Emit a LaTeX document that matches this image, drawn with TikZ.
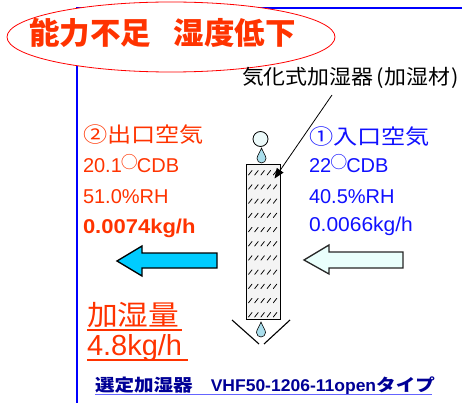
\documentclass[tikz,border=0pt]{standalone}
\usepackage{fontspec}
\setmainfont{Liberation Sans}
\newfontfamily\jp{Noto Sans CJK JP}
\usetikzlibrary{arrows.meta}

\definecolor{alarm}{RGB}{255,51,0}
\definecolor{inblue}{RGB}{16,16,255}
\definecolor{frameblue}{RGB}{0,0,255}
\definecolor{navytext}{RGB}{0,0,150}
\definecolor{ulblue}{RGB}{100,100,255}
\definecolor{padfill}{RGB}{244,244,244}
\definecolor{dropblue}{RGB}{170,222,236}
\definecolor{bubble}{RGB}{236,250,250}
\definecolor{jetcyan}{RGB}{0,204,255}
\definecolor{intake}{RGB}{234,255,252}

% horizontal stretch for text
\newcommand{\wide}[2]{\scalebox{#1}[1]{#2}}
% raised degree ring used in the temperature lines
\newcommand{\degring}{\hspace{-1pt}\raisebox{4.5pt}{\jp\fontsize{17}{17}\selectfont ○}\hspace{-1pt}}

\tikzset{
  txt/.style={inner sep=0pt, outer sep=0pt},
  frameline/.style={draw=frameblue, line width=2pt},
  hatchmark/.style={line width=0.75pt, line cap=round},
  blockarrow/.style={line width=1.3pt, line join=miter},
  waterdrop/.pic={
    \draw[fill=dropblue, line width=0.6pt]
      (0,0) .. controls (-1.5,4) and (-4.5,8) .. (-4.5,10.5)
      .. controls (-4.5,13) and (-2.5,15) .. (0,15)
      .. controls (2.5,15) and (4.5,13) .. (4.5,10.5)
      .. controls (4.5,8) and (1.5,4) .. (0,0) -- cycle;
  }
}

\begin{document}
\begin{tikzpicture}[x=1pt, y=-1pt]
\useasboundingbox (0,0) rectangle (462,403);

% blue frame
\draw[frameline] (77,403) -- (77,8) -- (462,8);

% headline in a red ellipse
\draw[red, line width=0.8pt, fill=white] (171,37) ellipse [x radius=164, y radius=35];
\node[txt, text=alarm, font=\jp\bfseries\fontsize{30.5}{30.5}\selectfont] (title) at (162.5,32.5) {能力不足\hspace{0.75em}湿度低下};

% humidifier label
\node[txt, font=\jp\fontsize{20.5}{20.5}\selectfont, anchor=west] (lbl) at (242,78)
  {\wide{1.07}{気化式加湿器\hspace{2.5pt}(\hspace{1pt}加湿材\hspace{1pt})}};
\coordinate (lblfoot) at (332,95);

% humidifying pad
\node[draw, line width=1pt, fill=padfill, minimum width=34pt, minimum height=154pt, inner sep=0pt] (col) at (263,242) {};
\foreach \r in {0,...,10} {
  \foreach \c in {0,...,4} {
    \draw[hatchmark] ({248.5+6.2*\c},{175+14.2*\r}) -- ++(3.5,-4.5);
  }
}

% pointer from the label to the pad
\draw[line width=0.8pt, -{Triangle[length=10pt, width=8pt]}] (lblfoot) -- ([shift={(-6,14)}]col.north east);

% water supply on top
\draw[line width=0.8pt, fill=bubble] (260.5,139) circle [radius=7.5];
\pic at (261.5,148) {waterdrop};

% drain tray below
\draw[line width=1.1pt] (232,320) -- (259,344);
\draw[line width=1.1pt] (290,320) -- (264,344);
\pic at (261,322) {waterdrop};

% outlet air arrow
\draw[blockarrow, fill=jetcyan] (117,261) -- (142,246) -- (142,253) -- (217,253)
  -- (217,268) -- (142,268) -- (142,276) -- cycle;
% inlet air arrow
\draw[blockarrow, draw=black!85, fill=intake] (304,260) -- (329,245) -- (329,252) -- (403,252)
  -- (403,268) -- (329,268) -- (329,274) -- cycle;

% outlet air state
\node[txt, text=alarm, font=\jp\fontsize{21}{21}\selectfont, anchor=west] (outhead) at (83,135) {\wide{1.15}{②出口空気}};
\node[txt, text=alarm, font=\fontsize{20}{20}\selectfont, anchor=base west] (outdb) at (83,173) {20.1\degring CDB};
\node[txt, text=alarm, font=\fontsize{20}{20}\selectfont, anchor=base west] (outrh) at (83,203) {51.0\%RH};
\node[txt, text=alarm, font=\bfseries\fontsize{20}{20}\selectfont, anchor=base west] (outabs) at (83,233) {\wide{1.1}{0.0074kg/h}};

% inlet air state
\node[txt, text=inblue, font=\jp\fontsize{21}{21}\selectfont, anchor=west] (inhead) at (309,137) {\wide{1.15}{①入口空気}};
\node[txt, text=inblue, font=\fontsize{20}{20}\selectfont, anchor=base west] (indb) at (309,173) {22\degring CDB};
\node[txt, text=inblue, font=\fontsize{20}{20}\selectfont, anchor=base west] (inrh) at (309,203) {40.5\%RH};
\node[txt, text=inblue, font=\fontsize{20}{20}\selectfont, anchor=base west] (inabs) at (309,231) {\wide{1.05}{0.0066kg/h}};

% humidifying amount
\node[txt, text=alarm, font=\jp\fontsize{28}{28}\selectfont, anchor=west] (amthead) at (87,315.5) {\wide{1.1}{加湿量}};
\node[txt, text=alarm, font=\fontsize{29}{29}\selectfont, anchor=base west] (amt) at (87,355) {4.8kg/h};
\draw[alarm, line width=2pt] (87,330) -- (182,330);
\draw[alarm, line width=2pt] (87,360) -- (188,360);

% selected model
\node[txt, text=navytext, anchor=base west] (model) at (95,391)
  {{\jp\bfseries\fontsize{17}{17}\selectfont\wide{1.15}{選定加湿器}}\hspace{18pt}{\bfseries\fontsize{17}{17}\selectfont\wide{1.03}{VHF50-1206-11open}}{\jp\bfseries\fontsize{17}{17}\selectfont\wide{1.15}{タイプ}}};
\draw[ulblue, line width=1.5pt] (95,394.5) -- (432,394.5);

\end{tikzpicture}
\end{document}
